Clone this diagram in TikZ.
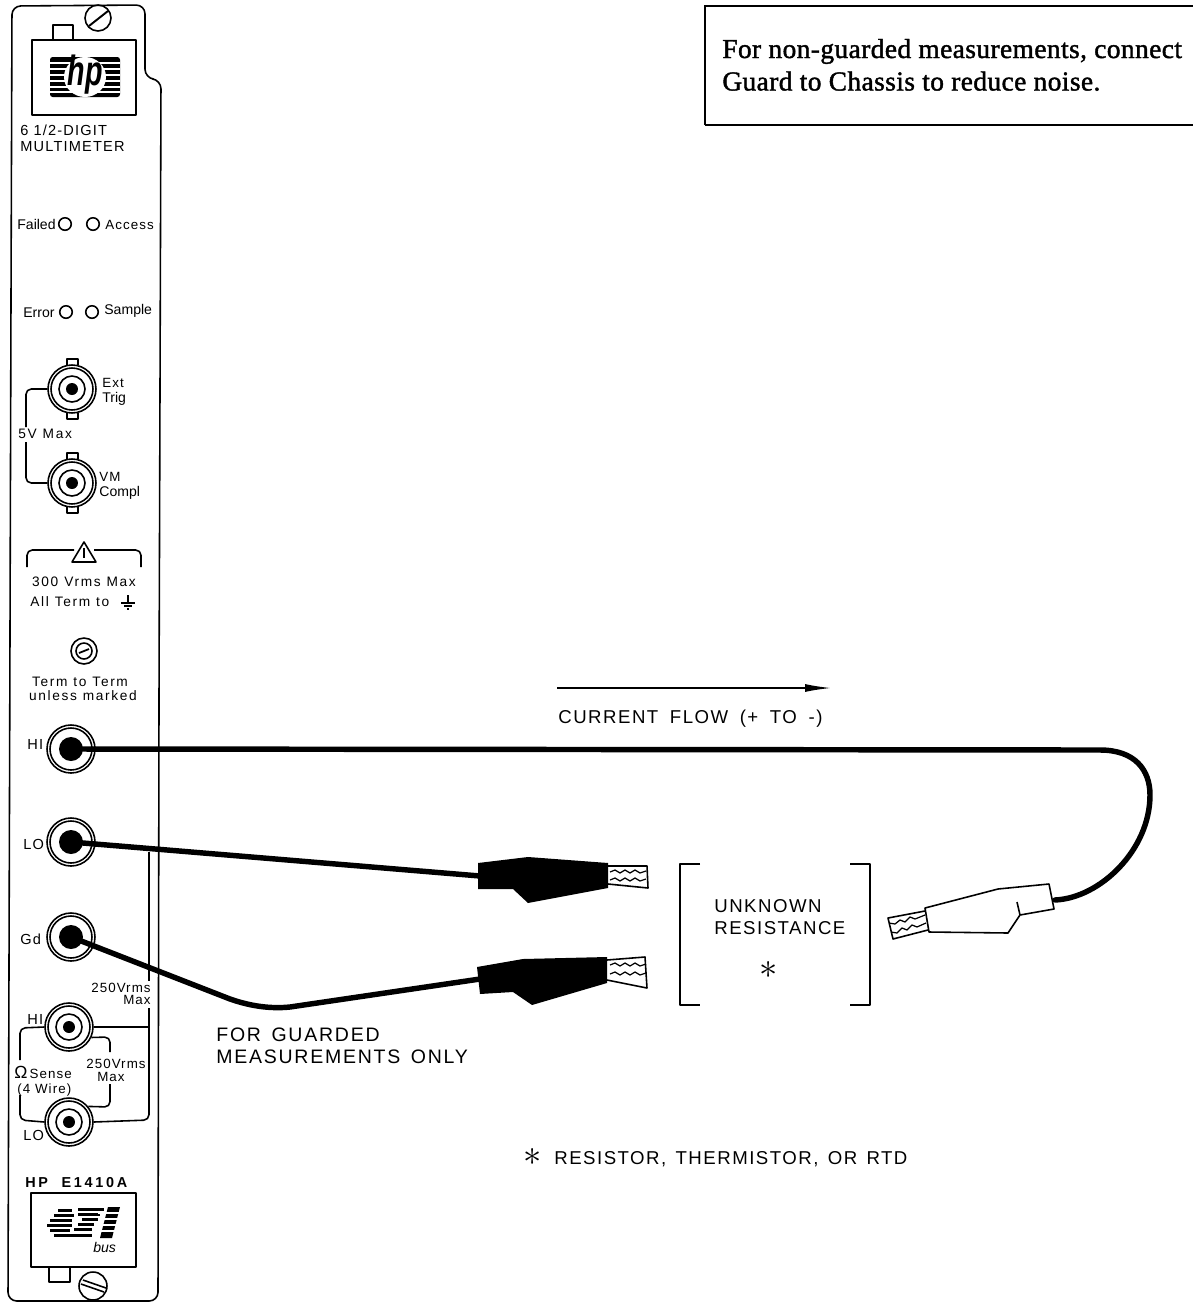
\documentclass[tikz,border=0pt]{standalone}
\usepackage{fontspec}
\usetikzlibrary{arrows.meta}
\setmainfont{Liberation Sans}
\newfontfamily\widefont[LetterSpace=8]{Liberation Sans}
\newfontfamily\spacedfont[LetterSpace=12]{Liberation Sans}
\newfontfamily\guardfont[LetterSpace=9]{Liberation Sans}
\newfontfamily\modelfont[LetterSpace=19]{Liberation Sans}
\newfontfamily\notefont[FakeBold=1.5,LetterSpace=1.5]{Liberation Serif}
\tikzset{
  paneltext/.style={inner sep=0pt,anchor=base west,font=\widefont\fontsize{7.6}{9}\selectfont},
  tighttext/.style={inner sep=0pt,anchor=base west,font=\fontsize{8}{9}\selectfont},
  spacedtext/.style={inner sep=0pt,anchor=base,font={\spacedfont\fontsize{7.8}{9}\selectfont\spaceskip 3.4pt\relax}},
  porttext/.style={inner sep=0pt,anchor=base west,font=\widefont\fontsize{8.3}{9}\selectfont},
  righttext/.style={paneltext,anchor=base east},
  bigtext/.style={inner sep=0pt,anchor=base west,font=\widefont\fontsize{10.6}{12}\selectfont},
  flowtextstyle/.style={bigtext,font={\widefont\fontsize{10.6}{12}\selectfont\spaceskip 6.6pt\relax}},
  guardtextstyle/.style={bigtext,font={\guardfont\fontsize{11.1}{12}\selectfont\spaceskip 6pt\relax}},
  listtextstyle/.style={bigtext,font={\widefont\fontsize{10.6}{12}\selectfont\spaceskip 5.3pt\relax}},
  notetext/.style={inner sep=0pt,anchor=base west,font=\notefont\fontsize{15.6}{17}\selectfont},
  startext/.style={inner sep=0pt,font=\fontsize{21}{21}\selectfont},
  panelline/.style={line width=0.9pt,line join=round},
  lead/.style={line width=3.1pt,line cap=round,line join=round},
  ringbig/.style={circle,draw,line width=0.9pt,inner sep=0pt,minimum size=9.6mm},
  ringmid/.style={circle,draw,line width=0.9pt,inner sep=0pt,minimum size=8.4mm},
  ringsmall/.style={circle,draw,line width=0.9pt,inner sep=0pt,minimum size=5.2mm},
  socket/.style={circle,fill=black,inner sep=0pt,minimum size=4.8mm},
  pin/.style={circle,fill=black,inner sep=0pt,minimum size=2.4mm},
  lamp/.style={circle,draw,line width=0.9pt,inner sep=0pt,minimum size=2.5mm}
}
\begin{document}
\begin{tikzpicture}[x=0.02cm,y=-0.02cm]
  \useasboundingbox (0,0) rectangle (1193,1302);
  \draw[panelline,rounded corners=5pt]
    (11,300) -- (12,6) -- (145,5) -- (145,78) -- (161,80) -- (159,700) -- (158,1301) -- (8,1301) -- cycle;
  \draw[panelline] (53,40) -- (53,25) -- (73,25) -- (73,40);
  \node[ringsmall] (topscrew) at (98,18) {};
  \draw[line width=1.1pt] (89,26) -- (108,11);
  \draw[panelline] (32,40) rectangle (136,115);
  \draw[line width=1.5pt] (32,40) -- (136,40) (32,115) -- (136,115);
  \fill[rounded corners=1.5pt] (50,57) rectangle (120,97);
  \foreach \y in {63,69,75,81,87,92}
    \draw[white,line width=0.9pt] (50,\y) -- (120,\y);
  \fill[white] (85,77) ellipse (21 and 20);
  \node[inner sep=0pt,font=\bfseries\itshape\fontsize{24}{24}\selectfont] (hplogo) at (85,75) {\scalebox{0.68}[1]{hp}};
  \node[paneltext,font=\widefont\fontsize{8.3}{10}\selectfont] (digittext) at (20,135) {6 1/2-DIGIT};
  \node[paneltext,font=\widefont\fontsize{8.3}{10}\selectfont] (metertext) at (20,151) {MULTIMETER};

  \node[tighttext] (failedtext) at (17,229) {Failed};
  \node[lamp] (failedlamp) at (65,224) {};
  \node[lamp] (accesslamp) at (93,224) {};
  \node[paneltext] (accesstext) at (105,229) {Access};
  \node[tighttext] (errortext) at (23,317) {Error};
  \node[lamp] (errorlamp) at (66,312) {};
  \node[lamp] (samplelamp) at (92,312) {};
  \node[tighttext] (sampletext) at (104,314) {Sample};

  \foreach \jack/\x/\y in {ext/72/389,vm/72/483,sensehi/69/1027,senselo/69/1122} {
    \node[ringbig] (\jack) at (\x,\y) {};
    \node[ringmid] (\jack mid) at (\jack) {};
    \node[ringsmall] (\jack small) at (\jack) {};
    \node[pin] (\jack pin) at (\jack) {};
  }
  \foreach \y in {389,483} {
    \draw[panelline] (67,\y-24) -- (67,\y-30) -- (78,\y-30) -- (78,\y-24);
    \draw[panelline] (67,\y+24) -- (67,\y+30) -- (78,\y+30) -- (78,\y+24);
  }
  \node[paneltext] (exttext) at (102,387) {Ext};
  \node[tighttext] (trigtext) at (102,402) {Trig};
  \node[paneltext] (vmtext) at (99,481) {VM};
  \node[tighttext] (compltext) at (99,496) {Compl};
  \node[spacedtext,anchor=base west] (maxtext) at (18,438) {5V Max};
  \coordinate (maxtop) at (26,427);
  \coordinate (maxbottom) at (26,442);
  \draw[panelline,rounded corners=3pt] (ext.west) -- (26,389) -- (maxtop);
  \draw[panelline,rounded corners=3pt] (maxbottom) -- (26,483) -- (vm.west);

  \coordinate (warnleft) at (27,567);
  \coordinate (warnright) at (141,567);
  \draw[panelline,rounded corners=3pt] (warnleft) -- (27,550) -- (74,550);
  \draw[panelline,rounded corners=3pt] (94,550) -- (141,550) -- (warnright);
  \draw[panelline] (84,542) -- (96,562) -- (72,562) -- cycle;
  \draw[panelline] (84,548) -- (84,558);
  \node[spacedtext] (voltstext) at (84,586) {300 Vrms Max};
  \node[spacedtext,anchor=base west] (termtext) at (30,606) {All Term to};
  \draw[panelline] (128,595) -- (128,603) (121,603) -- (135,603) (124,606) -- (132,606) (127,609) -- (129,609);
  \node[ringsmall] (markscrew) at (84,651) {};
  \node[circle,draw,line width=0.9pt,inner sep=0pt,minimum size=3.2mm] (markinner) at (markscrew) {};
  \draw[line width=1pt] (79,653) -- (89,649);
  \node[spacedtext] (termtotext) at (80,686) {Term to Term};
  \node[spacedtext] (unlesstext) at (83,700) {unless marked};

  \foreach \jack/\x/\y in {hi/71/749,lo/71/842,gd/71/937} {
    \node[ringbig] (\jack) at (\x,\y) {};
    \node[ringmid] (\jack mid) at (\jack) {};
    \node[socket] (\jack dot) at (\jack) {};
  }
  \node[porttext] (hitext) at (27,749) {HI};
  \node[porttext] (lotext) at (23,849) {LO};
  \node[porttext] (gdtext) at (20,944) {Gd};

  \coordinate (guardtop) at (149,852);
  \coordinate (guardmid) at (149,981);
  \draw[panelline] (guardtop) -- (guardmid);
  \node[righttext] (ratingtext) at (151,992) {250Vrms};
  \node[righttext] (ratingmax) at (151,1004) {Max};
  \coordinate (guardjoin) at (149,1008);
  \draw[panelline] (guardjoin) -- (149,1027) -- (sensehi.east);
  \draw[panelline,rounded corners=3pt] (149,1027) -- (149,1120) -- (senselo.east);
  \coordinate (senseleft) at (20,1060);
  \coordinate (senselow) at (20,1095);
  \draw[panelline,rounded corners=3pt] (sensehi.west) -- (20,1028) -- (senseleft);
  \draw[panelline,rounded corners=3pt] (senselow) -- (20,1120) -- (senselo.west);
  \coordinate (innertop) at (110,1052);
  \coordinate (innerlow) at (110,1084);
  \draw[panelline,rounded corners=3pt] (sensehi.-25) -- (110,1037) -- (innertop);
  \draw[panelline,rounded corners=3pt] (innerlow) -- (110,1107) -- (senselo.39);
  \node[righttext] (ratingsense) at (146,1068) {250Vrms};
  \node[righttext] (ratingsensemax) at (125,1081) {Max};
  \node[paneltext] (sensetext) at (14,1078) {{\fontsize{10}{10}\selectfont Ω}\,Sense};
  \node[paneltext] (wiretext) at (17,1093) {(4 Wire)};
  \node[porttext] (sensehitext) at (27,1024) {HI};
  \node[porttext] (senselotext) at (23,1140) {LO};

  \node[paneltext,font=\modelfont\bfseries\fontsize{8.2}{10}\selectfont] (modeltext) at (25,1187) {HP\ \ E1410A};
  \draw[panelline] (31,1193) rectangle (136,1267);
  \draw[line width=1.5pt] (31,1267) -- (136,1267);
  \foreach \xa/\xb/\y in {58/72/1210,54/74/1215,50/72/1220,47/72/1225,50/70/1230,54/70/1235} 
    \draw[line width=1.7pt] (\xa,\y) -- (\xb,\y);
  \foreach \xa/\xb/\y in {78/104/1209,78/100/1214,82/98/1219,78/94/1224,74/92/1229,70/92/1235} 
    \draw[line width=1.7pt] (\xa,\y) -- (\xb,\y);
  \fill (108,1207) -- (120,1207) -- (112,1238) -- (100,1238) -- cycle;
  \foreach \y in {1213,1219,1225,1231}
    \draw[white,line width=0.9pt] (98,\y) -- (122,\y);
  \node[inner sep=0pt,anchor=base west,font=\itshape\fontsize{8}{8}\selectfont] (bustext) at (93,1252) {bus};
  \draw[panelline] (49,1267) -- (49,1282) -- (70,1282) -- (70,1267);
  \node[circle,draw,line width=0.9pt,inner sep=0pt,minimum size=5.6mm] (lowscrew) at (93,1286) {};
  \draw[panelline] (83,1280) -- (106,1288) (81,1284) -- (104,1292);

  \draw[line width=1.5pt] (705,125) -- (705,6) -- (1193,6);
  \draw[line width=1.5pt] (705,125) -- (1193,125);
  \node[notetext] (notefirst) at (722,58) {For non-guarded measurements, connect};
  \node[notetext] (notesecond) at (722,90.5) {Guard to Chassis to reduce noise.};

  \coordinate (flowstart) at (557,688);
  \coordinate (flowend) at (831,688);
  \draw[line width=0.8pt,-{Latex[length=5.2mm,width=1.6mm]}] (flowstart) -- (flowend);
  \node[flowtextstyle] (flowtext) at (558,723) {CURRENT FLOW (+ TO -)};

  \coordinate (plugopen) at (1055,900);
  \coordinate (plugupper) at (480,876);
  \coordinate (pluglower) at (480,979);
  \begin{scope}[lead]
    \draw (hi.center) -- (1100,750) .. controls (1135,750) and (1150,770) .. (1150,795) .. controls (1150,850) and (1100,898) .. (plugopen);
    \draw (lo.center) -- (plugupper);
    \draw (gd.center) -- (230,999) .. controls (250,1006) and (270,1009) .. (290,1007) -- (pluglower);
  \end{scope}

  \fill (478,863) -- (528,857) -- (608,863) -- (608,888) -- (528,903) -- (513,889) -- (478,889) -- cycle;
  \fill (477,967) -- (523,959) -- (607,957) -- (607,983) -- (532,1005) -- (513,992) -- (480,994) -- cycle;
  \draw[panelline] (608,866) -- (647,866) -- (648,888) -- (608,884);
  \draw[panelline] (607,960) -- (645,957) -- (647,988) -- (607,980);
  \foreach \y in {872,880,965,974} {
    \draw[line width=0.7pt] (610,\y) -- (615,\y-2) -- (620,\y+1) -- (625,\y-2) -- (630,\y+1) -- (635,\y-2) -- (640,\y+1) -- (646,\y-1);
  }
  \draw[panelline,fill=white] (925,908) -- (998,889) -- (1049,884) -- (1054,909) -- (1020,915) -- (1008,933) -- (929,932) -- cycle;
  \draw[panelline] (1017,902) -- (1020,915);
  \draw[panelline] (925,911) -- (888,918) -- (893,939) -- (928,930);
  \draw[line width=0.7pt] (889,923) -- (895,924) -- (900,920) -- (905,922) -- (910,917) -- (915,919) -- (925,915);
  \draw[line width=0.7pt] (891,932) -- (897,933) -- (902,928) -- (907,930) -- (912,925) -- (917,927) -- (926,923);

  \draw[panelline] (700,864) -- (680,864) -- (680,1005) -- (700,1005);
  \draw[panelline] (850,864) -- (870,864) -- (870,1005) -- (850,1005);
  \node[bigtext] (unknowntext) at (714,912) {UNKNOWN};
  \node[bigtext] (resisttext) at (714,934) {RESISTANCE};
  \node[startext] (staritem) at (769,970) {$\ast$};
  \node[guardtextstyle] (guardtext) at (216,1041) {FOR GUARDED};
  \node[guardtextstyle] (guardonly) at (216,1063) {MEASUREMENTS ONLY};
  \node[startext] (starnote) at (533,1157) {$\ast$};
  \node[listtextstyle] (resistornote) at (554,1164) {RESISTOR, THERMISTOR, OR RTD};
\end{tikzpicture}
\end{document}
